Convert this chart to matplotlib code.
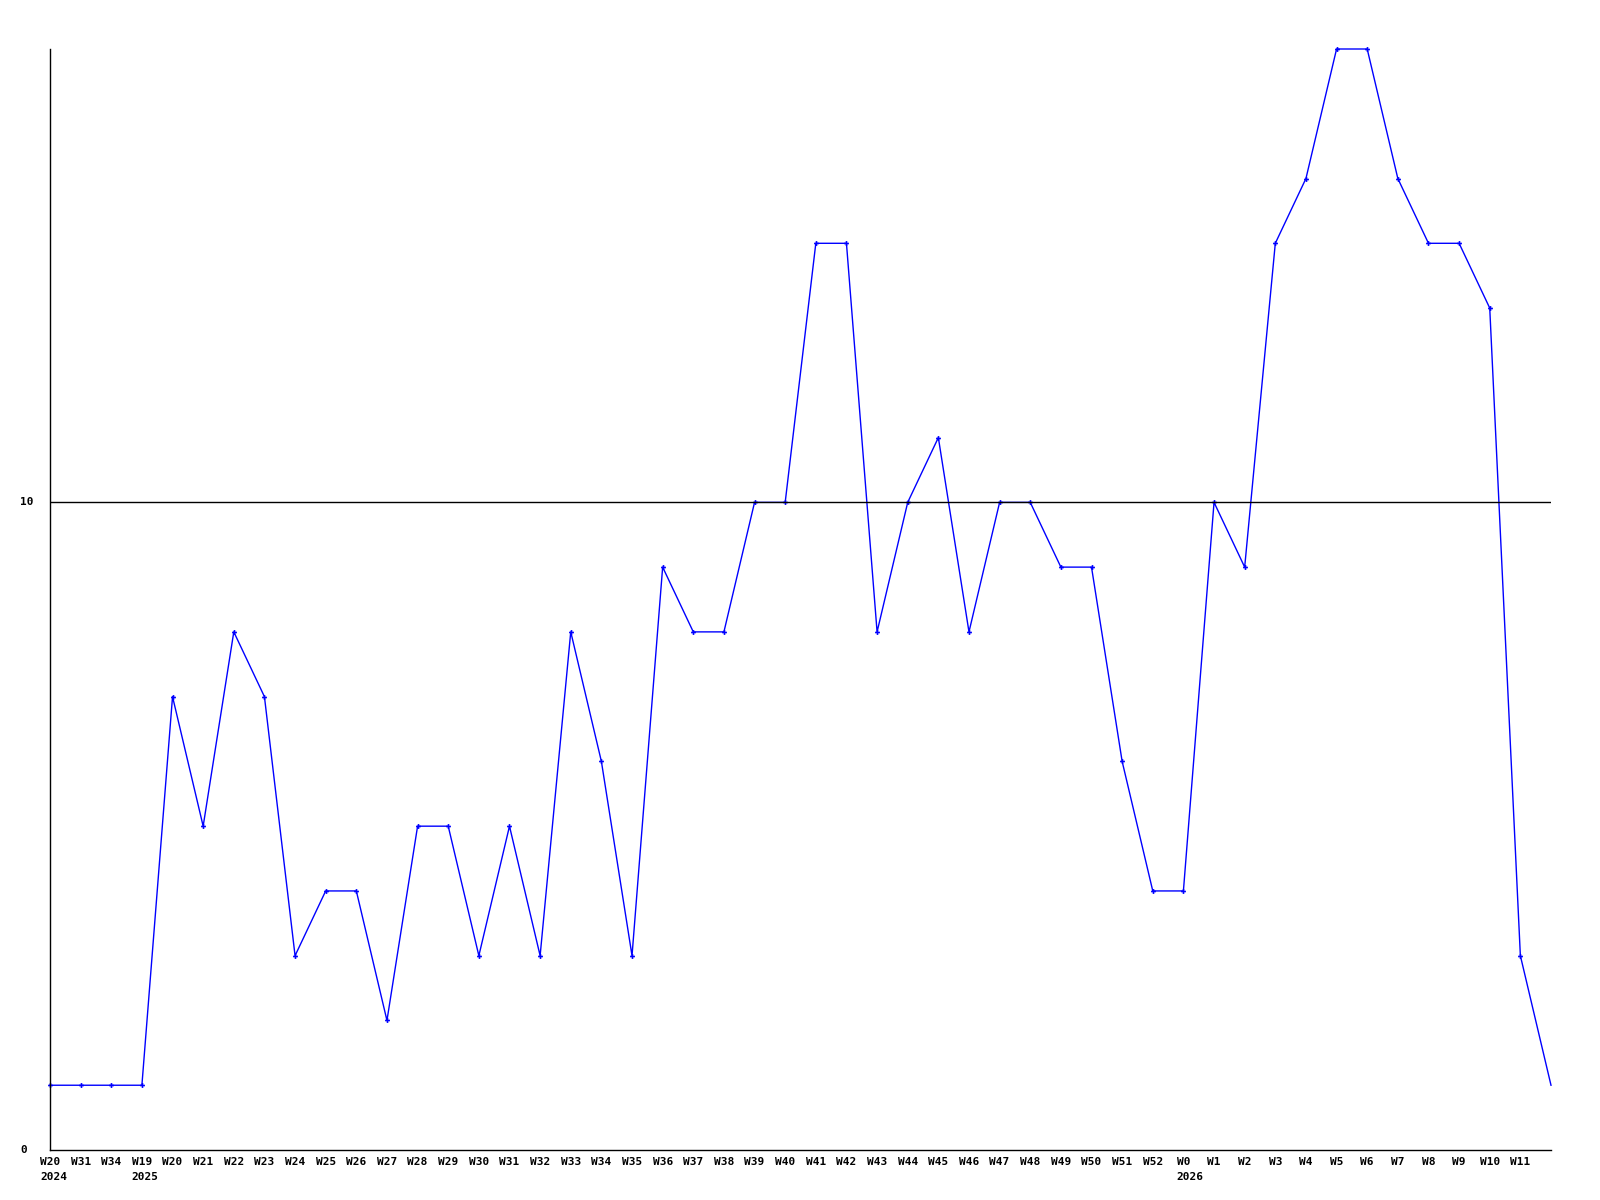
import matplotlib
matplotlib.use('Agg')
import matplotlib.pyplot as plt

# week labels along the x axis (last point has no label)
weeks = ['W20', 'W31', 'W34', 'W19', 'W20', 'W21', 'W22', 'W23', 'W24', 'W25',
         'W26', 'W27', 'W28', 'W29', 'W30', 'W31', 'W32', 'W33', 'W34', 'W35',
         'W36', 'W37', 'W38', 'W39', 'W40', 'W41', 'W42', 'W43', 'W44', 'W45',
         'W46', 'W47', 'W48', 'W49', 'W50', 'W51', 'W52', 'W0', 'W1', 'W2',
         'W3', 'W4', 'W5', 'W6', 'W7', 'W8', 'W9', 'W10', 'W11', '']
# year markers: index of week label -> year
year_pos = [0, 3, 37]
year_txt = ['2024', '2025', '2026']

values = [1, 1, 1, 1, 7, 5, 8, 7, 3, 4,
          4, 2, 5, 5, 3, 5, 3, 8, 6, 3,
          9, 8, 8, 10, 10, 14, 14, 8, 10, 11,
          8, 10, 10, 9, 9, 6, 4, 4, 10, 9,
          14, 15, 17, 17, 15, 14, 14, 13, 3, 1]

yticks = [0, 10]

fs = 8
font = dict(family='DejaVu Sans Mono', fontweight='bold', fontsize=fs)

fig = plt.figure(figsize=(16, 12), dpi=100)
ax = fig.add_axes([50 / 1600, 50 / 1200, 1501 / 1600, 1101 / 1200])

x = list(range(len(values)))
# last point sits on the right edge and has no marker
ax.plot(x, values, color='#0000ff', linewidth=1, marker='P', markersize=3.5,
        markeredgewidth=0, markevery=list(range(len(values) - 1)), clip_on=False)

ax.set_xlim(0, len(values) - 1)
ax.set_ylim(0, 17)

for s in ['top', 'right']:
    ax.spines[s].set_visible(False)
for s in ['left', 'bottom']:
    ax.spines[s].set_linewidth(1)
ax.set_xticks([])
ax.set_yticks([])

# grid line at 10
for t in yticks:
    if t > 0:
        ax.axhline(t, color='black', linewidth=1)

# y labels (left aligned at x = 20 px)
for t in yticks:
    ax.annotate(str(t), xy=(0, t), xycoords=('axes fraction', 'data'),
                xytext=(-30, 0), textcoords='offset pixels',
                ha='left', va='center', **font)

# week labels
for i, w in enumerate(weeks):
    if w:
        ax.annotate(w, xy=(i, 0), xycoords=('data', 'axes fraction'),
                    xytext=(0, -12), textcoords='offset pixels',
                    ha='center', va='center', **font)

# year labels, left aligned with the week label
char_w = 0.602 * fs * 100 / 72
for p, yr in zip(year_pos, year_txt):
    off = -len(weeks[p]) * char_w / 2
    ax.annotate(yr, xy=(p, 0), xycoords=('data', 'axes fraction'),
                xytext=(off, -27), textcoords='offset pixels',
                ha='left', va='center', **font)

fig.savefig('out.png', dpi=100)
